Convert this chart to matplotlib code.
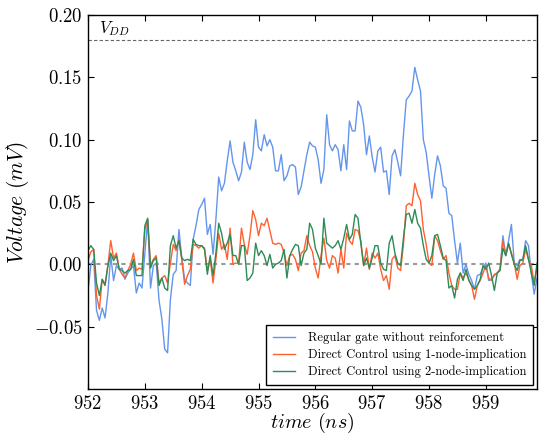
import numpy as np
import matplotlib
matplotlib.use("Agg")
import matplotlib.pyplot as plt

plt.rcParams.update({
    "font.family": "serif",
    "font.serif": ["cmr10"],
    "mathtext.fontset": "cm",
    "axes.formatter.use_mathtext": True,
    "axes.unicode_minus": True,
})

# time samples (ns)
t_start = 952.0
t_step = 0.05

regular = [
    -0.021, -0.001, 0.004, -0.037, -0.045, -0.035, -0.043, -0.023, 0.007, -0.013,
    -0.001, -0.004, -0.003, -0.012, -0.007, -0.004, -0.001, -0.023, -0.015, -0.019,
    0.009, 0.036, -0.019, -0.001, 0.001, -0.029, -0.044, -0.068, -0.071, -0.028,
    -0.008, -0.005, 0.028, 0.005, -0.012, -0.015, -0.017, 0.020, 0.031, 0.044,
    0.048, 0.053, 0.024, 0.032, 0.008, 0.036, 0.070, 0.059, 0.065, 0.083,
    0.099, 0.082, 0.075, 0.067, 0.074, 0.098, 0.082, 0.076, 0.088, 0.116,
    0.094, 0.091, 0.104, 0.095, 0.100, 0.094, 0.075, 0.075, 0.088, 0.067,
    0.071, 0.079, 0.080, 0.078, 0.056, 0.062, 0.075, 0.088, 0.098, 0.095,
    0.094, 0.084, 0.065, 0.076, 0.120, 0.096, 0.091, 0.096, 0.092, 0.075,
    0.096, 0.076, 0.115, 0.107, 0.107, 0.131, 0.126, 0.112, 0.088, 0.103,
    0.086, 0.074, 0.091, 0.094, 0.074, 0.075, 0.056, 0.087, 0.092, 0.082,
    0.071, 0.104, 0.132, 0.135, 0.139, 0.158, 0.148, 0.139, 0.100, 0.090,
    0.071, 0.053, 0.072, 0.087, 0.079, 0.063, 0.061, 0.041, 0.039, 0.019,
    0.001, 0.017, -0.007, 0.000, -0.008, -0.013, -0.020, -0.009, -0.008, -0.003,
    0.001, -0.013, -0.012, -0.009, -0.007, -0.004, 0.023, 0.007, 0.019, 0.032,
    0.001, -0.001, 0.004, 0.003, 0.019, 0.015, -0.007, -0.024, -0.011,
]

one_node = [
    0.003, 0.010, 0.012, -0.025, -0.036, -0.012, -0.016, -0.001, 0.019, 0.005,
    0.009, -0.004, -0.008, -0.011, -0.005, 0.000, 0.009, -0.005, -0.003, -0.004,
    0.028, 0.035, -0.001, 0.004, 0.007, -0.015, -0.011, -0.009, -0.015, 0.001,
    0.016, 0.011, 0.020, 0.004, -0.016, -0.009, -0.004, 0.016, 0.015, 0.013,
    0.015, 0.013, -0.005, 0.004, -0.015, 0.004, 0.025, 0.012, 0.016, 0.004,
    0.029, 0.000, 0.001, 0.001, 0.029, 0.016, 0.008, 0.023, 0.043, 0.036,
    0.023, 0.033, 0.031, 0.037, 0.027, 0.017, 0.016, 0.017, 0.016, 0.009,
    -0.001, 0.007, 0.008, 0.004, -0.005, 0.009, 0.011, 0.023, 0.015, 0.010,
    -0.003, -0.011, 0.007, 0.021, 0.003, -0.003, 0.007, 0.005, -0.007, 0.012,
    -0.003, 0.025, 0.019, 0.016, 0.028, 0.027, 0.019, -0.001, 0.013, -0.004,
    0.009, 0.005, 0.009, -0.004, -0.013, -0.009, -0.020, 0.004, 0.007, -0.003,
    -0.005, 0.016, 0.047, 0.049, 0.047, 0.065, 0.056, 0.051, 0.028, 0.016,
    0.001, -0.001, 0.023, 0.019, 0.011, 0.004, 0.007, -0.007, -0.017, -0.020,
    -0.020, -0.007, -0.011, -0.007, -0.012, -0.017, -0.028, -0.017, -0.013, -0.007,
    -0.001, -0.011, -0.013, -0.008, -0.007, -0.004, 0.019, 0.007, 0.016, 0.009,
    0.001, -0.012, -0.001, 0.001, 0.012, 0.004, -0.001, -0.015, -0.003,
]

two_node = [
    0.011, 0.015, 0.012, -0.015, -0.025, -0.012, -0.017, -0.001, 0.009, 0.003,
    0.007, -0.004, -0.005, -0.007, -0.005, -0.004, 0.004, -0.009, -0.009, -0.009,
    0.031, 0.037, -0.003, 0.003, 0.005, -0.017, -0.011, -0.019, -0.021, 0.015,
    0.023, 0.013, 0.019, 0.005, 0.003, 0.004, 0.003, 0.020, 0.016, 0.015,
    0.015, 0.012, -0.008, 0.007, -0.009, 0.009, 0.033, 0.025, 0.012, 0.017,
    0.024, 0.007, 0.007, 0.000, 0.015, 0.015, -0.013, -0.011, -0.007, 0.017,
    0.007, 0.011, 0.007, -0.001, 0.008, -0.003, 0.000, 0.001, 0.003, 0.012,
    -0.011, 0.007, 0.012, 0.016, 0.015, -0.001, 0.009, 0.012, 0.033, 0.028,
    0.013, 0.007, 0.000, 0.037, 0.017, 0.015, 0.013, 0.015, 0.019, 0.012,
    0.021, 0.032, 0.020, 0.024, 0.040, 0.037, 0.017, -0.001, 0.005, -0.003,
    0.005, 0.015, 0.015, 0.001, -0.004, -0.005, 0.017, 0.023, 0.009, 0.001,
    -0.001, 0.021, 0.040, 0.041, 0.033, 0.044, 0.033, 0.029, 0.015, 0.004,
    0.001, 0.007, 0.023, 0.024, 0.015, 0.005, 0.003, -0.019, -0.017, -0.027,
    -0.012, -0.007, -0.013, -0.004, -0.013, -0.017, -0.020, -0.017, -0.012, -0.001,
    -0.004, 0.001, -0.009, -0.021, -0.007, -0.005, 0.013, 0.007, 0.017, 0.008,
    0.000, -0.005, 0.003, 0.004, 0.015, 0.004, -0.007, -0.017, 0.001,
]

labels = [
    "Regular gate without reinforcement",
    "Direct Control using 1-node-implication",
    "Direct Control using 2-node-implication",
]
colors = ["#6495ED", "#FF6030", "#2E8B57"]
vdd = 0.18
xticks = [952, 953, 954, 955, 956, 957, 958, 959]
yticks = [-0.05, 0.00, 0.05, 0.10, 0.15, 0.20]

t = t_start + t_step * np.arange(len(regular))

fig = plt.figure(figsize=(5.39, 4.34), dpi=100)
ax = fig.add_axes([88 / 539, 1 - 389 / 434, 449 / 539, 374 / 434])

for ys, lab, c in zip([regular, one_node, two_node], labels, colors):
    ax.plot(t, ys, color=c, lw=1.0, label=lab)

ax.axhline(0.0, color="#999999", ls=(0, (2, 2)), lw=1.5, zorder=0)
ax.axhline(vdd, color="#666666", ls=(0, (3, 2)), lw=0.8, zorder=0)
ax.text(952.2, 0.1818, r"$V_{DD}$", fontsize=12, ha="left", va="bottom")

ax.set_xlim(952, 959.9)
ax.set_ylim(-0.1, 0.2)
ax.set_xticks(xticks)
ax.set_yticks(yticks)
ax.set_xticklabels([f"${v}$" for v in xticks])
ax.set_yticklabels([f"${v:.2f}$" for v in yticks])
ax.tick_params(direction="in", top=True, right=True, labelsize=13.5, length=4, width=0.8, pad=4)
for s in ax.spines.values():
    s.set_linewidth(1.0)

ax.set_xlabel(r"$time\ (ns)$", fontsize=14.5, labelpad=-1)
ax.set_ylabel(r"$Voltage\ (mV)$", fontsize=15.5, labelpad=2)

leg = ax.legend(loc="lower right", fontsize=9.0, fancybox=False, framealpha=1,
                edgecolor="black", borderaxespad=0.3, handlelength=1.8,
                handletextpad=1.0, borderpad=0.55, labelspacing=0.35)
leg.get_frame().set_linewidth(1.0)

fig.savefig("out.png", dpi=100)
